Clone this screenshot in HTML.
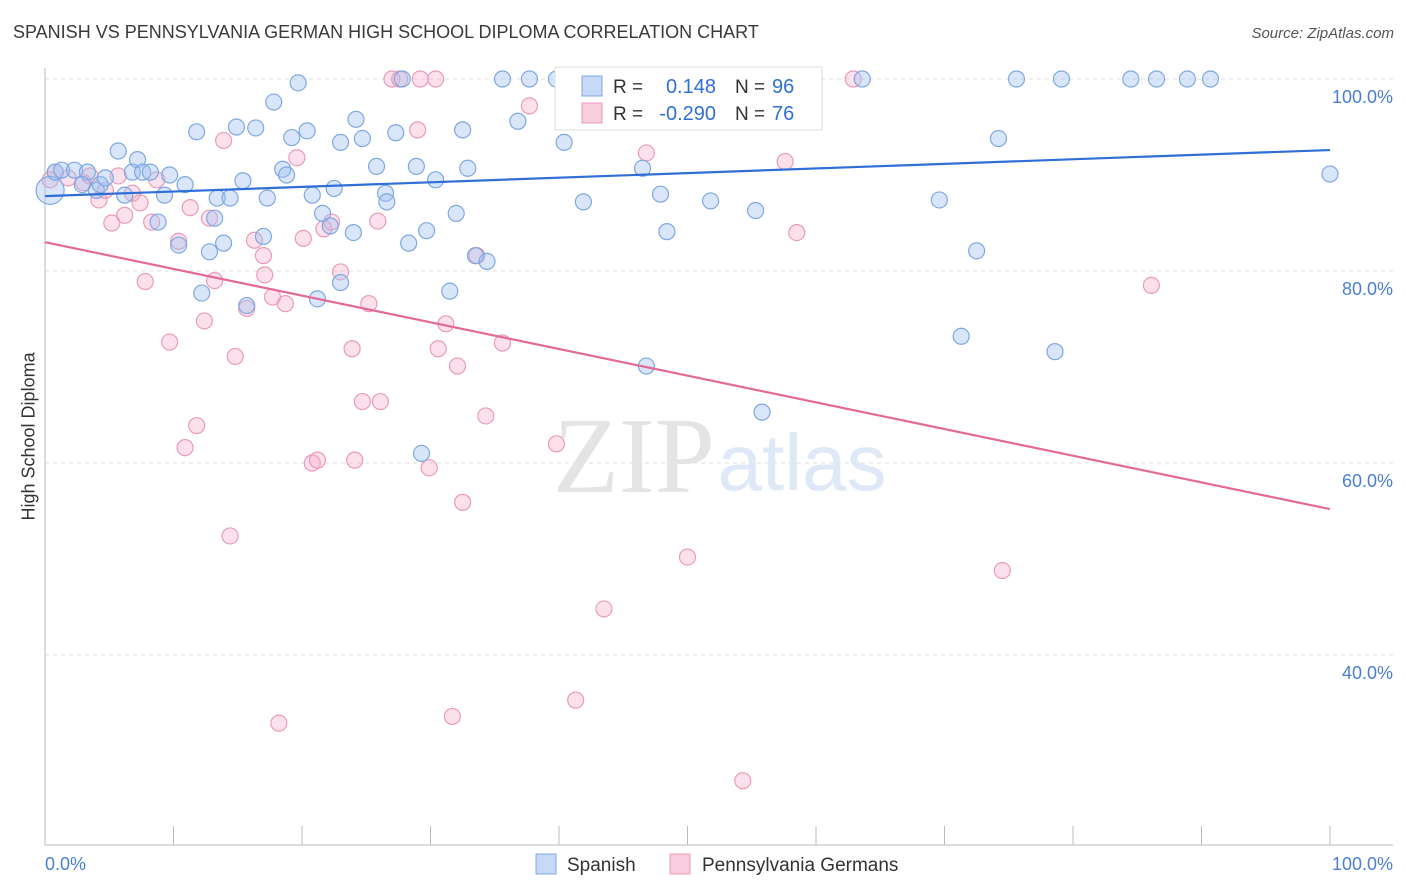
<!DOCTYPE html>
<html><head><meta charset="utf-8"><style>
body{margin:0;background:#fff;font-family:"Liberation Sans",sans-serif;}
#wrap{position:relative;width:1406px;height:892px;overflow:hidden;}
.t{position:absolute;white-space:nowrap;}
</style></head><body>
<div id="wrap">
<div class="t" style="left:13px;top:22px;font-size:18px;color:#3a3a3a;">SPANISH VS PENNSYLVANIA GERMAN HIGH SCHOOL DIPLOMA CORRELATION CHART</div>
<div class="t" style="right:12px;top:25px;font-size:15px;color:#555;font-style:italic;">Source: ZipAtlas.com</div>
<div class="t" style="left:-36px;top:445px;font-size:18px;color:#333;transform:rotate(-90deg);width:130px;text-align:center;">High School Diploma</div>
<svg id="plot" width="1406" height="892" style="position:absolute;left:0;top:0"></svg>
</div>
<script>
const yTicks=[100,80,60,40];
const yTickLabels=["100.0%","80.0%","60.0%","40.0%"];
const spanishX=[0.4,0.8,1.3,2.3,3.3,2.9,4.0,4.3,4.7,5.7,6.2,6.8,7.2,7.6,8.2,8.8,9.3,9.7,10.4,10.9,11.8,12.2,12.8,13.2,13.4,13.9,14.4,14.9,15.4,15.7,16.4,17.0,17.3,17.8,18.5,18.8,19.2,19.7,20.4,20.8,21.2,21.6,22.2,22.5,23.0,23.0,24.0,24.2,24.7,25.8,26.5,26.6,27.3,27.8,28.3,28.9,29.7,30.4,32.0,32.5,32.9,33.5,34.4,31.5,29.3,35.6,36.8,37.7,39.8,40.4,41.9,46.5,46.8,47.9,48.4,51.8,52.2,55.3,55.8,56.3,63.6,69.6,71.3,72.5,74.2,75.6,79.1,84.5,86.5,88.9,90.7,78.6,100];
const spanishY=[88.4,90.3,90.5,90.5,90.3,89.0,88.4,89.0,89.7,92.5,87.9,90.3,91.6,90.3,90.3,85.1,87.9,90.0,82.7,89.0,94.5,77.7,82.0,85.5,87.6,82.9,87.6,95.0,89.4,76.4,94.9,83.6,87.6,97.6,90.6,90.0,93.9,99.6,94.6,87.9,77.1,86.0,84.7,88.6,78.8,93.4,84.0,95.8,93.8,90.9,88.1,87.2,94.4,100,82.9,90.9,84.2,89.5,86.0,94.7,90.7,81.6,81.0,77.9,61.0,100,95.6,100,100,93.4,87.2,90.7,70.1,88.0,84.1,87.3,100,86.3,65.3,100,100,87.4,73.2,82.1,93.8,100,100,100,100,100,100,71.6,90.1];
const pennX=[0.4,0.8,1.8,3.0,3.5,4.2,4.7,5.2,5.7,6.2,6.8,7.4,7.8,8.3,8.7,9.7,10.4,10.9,11.3,11.8,12.4,12.8,13.2,13.9,14.4,14.8,15.7,16.3,17.0,17.1,17.7,18.2,18.7,19.6,20.1,20.8,21.2,21.7,22.3,23.0,23.9,24.1,24.7,25.2,26.1,25.9,27.0,27.6,29.0,29.2,30.4,29.9,30.6,31.2,31.7,32.1,32.5,33.6,34.3,35.6,37.7,39.8,43.5,41.3,46.8,50.0,54.3,57.6,58.5,62.9,74.5,86.1];
const pennY=[89.5,90.3,89.7,89.2,89.9,87.4,88.4,85.0,89.9,85.8,88.1,87.1,78.9,85.1,89.5,72.6,83.1,61.6,86.6,63.9,74.8,85.5,79.0,93.6,52.4,71.1,76.1,83.2,81.6,79.6,77.3,32.9,76.6,91.8,83.4,60.0,60.3,84.4,85.1,79.9,71.9,60.3,66.4,76.6,66.4,85.2,100,100,94.7,100,100,59.5,71.9,74.5,33.6,70.1,55.9,81.6,64.9,72.5,97.2,62.0,44.8,35.3,92.3,50.2,26.9,91.4,84.0,100,48.8,78.5];
const spanishTrend=[87.8,92.6];
const pennTrend=[83.0,55.2];

const NS="http://www.w3.org/2000/svg";
const svg=document.getElementById('plot');
const X=v=>45+v*12.85;
const Y=v=>1039-v*9.6;
function mk(tag,attrs,parent){const e=document.createElementNS(NS,tag);for(const k in attrs)e.setAttribute(k,attrs[k]);(parent||svg).appendChild(e);return e;}

yTicks.forEach((t,i)=>{
  const g=mk('line',{x1:45,x2:1393,y1:Y(t),y2:Y(t),stroke:'#ddd','stroke-dasharray':'4,4'});
  
  
  const tx=mk('text',{x:1393,y:Y(t)+24,'text-anchor':'end','font-size':18,fill:'#4a7fd6','font-family':'Liberation Sans, sans-serif'});
  tx.textContent=yTickLabels[i];
  
  
});
const ax=mk('line',{x1:45,x2:45,y1:68,y2:845,stroke:'#bbb'});


const bx=mk('line',{x1:45,x2:1393,y1:845,y2:845,stroke:'#bbb'});


for(let i=0;i<=10;i++){
  const tk=mk('line',{x1:X(i*10),x2:X(i*10),y1:826,y2:845,stroke:'#bbb'});
  
  
}
[['0.0%',45,'start'],['100.0%',1393,'end']].forEach(a=>{
  const t=mk('text',{x:a[1],y:870,'text-anchor':a[2],'font-size':18,fill:'#4a7fd6','font-family':'Liberation Sans, sans-serif'});
  t.textContent=a[0];
  
  
});
const w1=mk('text',{x:634,y:492,'text-anchor':'middle','font-size':108,fill:'#e4e4e4','font-family':'Liberation Serif, serif'});
w1.textContent='ZIP';


const w2=mk('text',{x:802,y:490,'text-anchor':'middle','font-size':80,fill:'#dfe8f6','font-family':'Liberation Sans, sans-serif'});
w2.textContent='atlas';



pennX.forEach((x,i)=>{
  const c=mk('circle',{cx:X(x),cy:Y(pennY[i]),r:8,fill:'rgba(245,170,200,0.35)',stroke:'#e99bb9','stroke-width':1.2});
  
  
});
spanishX.forEach((x,i)=>{
  const c=mk('circle',{cx:X(x),cy:Y(spanishY[i]),r:i===0?14:8,fill:'rgba(160,192,240,0.4)',stroke:'#7ea8e2','stroke-width':1.2});
  
  
});
const l1=mk('line',{x1:X(0),x2:X(100),y1:Y(spanishTrend[0]),y2:Y(spanishTrend[1]),stroke:'#2f6fd6','stroke-width':2.2});


const l2=mk('line',{x1:X(0),x2:X(100),y1:Y(pennTrend[0]),y2:Y(pennTrend[1]),stroke:'#e36a98','stroke-width':2.2});



const lg=mk('g',{});


mk('rect',{x:555,y:67,width:267,height:63,fill:'#fff',stroke:'#ddd'},lg);
mk('rect',{x:582,y:76,width:20,height:20,fill:'rgba(160,192,240,0.6)',stroke:'#7ea8e2'},lg);
mk('rect',{x:582,y:103,width:20,height:20,fill:'rgba(245,170,200,0.6)',stroke:'#e99bb9'},lg);
[[93,'R = ','0.148','96'],[120,'R = ','-0.290','76']].forEach(r=>{
  const a=mk('text',{x:613,y:r[0],'font-size':19,fill:'#333','font-family':'Liberation Sans, sans-serif'},lg);a.textContent=r[1];
  const b=mk('text',{x:716,y:r[0],'text-anchor':'end','font-size':20,fill:'#2f6fd6','font-family':'Liberation Sans, sans-serif'},lg);b.textContent=r[2];
  const c=mk('text',{x:735,y:r[0],'font-size':19,fill:'#333','font-family':'Liberation Sans, sans-serif'},lg);c.textContent='N = ';
  const d=mk('text',{x:772,y:r[0],'font-size':20,fill:'#2f6fd6','font-family':'Liberation Sans, sans-serif'},lg);d.textContent=r[3];
});
const bl=mk('g',{});


mk('rect',{x:536,y:854,width:20,height:20,fill:'rgba(160,192,240,0.6)',stroke:'#7ea8e2'},bl);
mk('rect',{x:670,y:854,width:20,height:20,fill:'rgba(245,170,200,0.6)',stroke:'#e99bb9'},bl);
const s1=mk('text',{x:567,y:871,'font-size':19,fill:'#333','font-family':'Liberation Sans, sans-serif'},bl);s1.textContent='Spanish';
const s2=mk('text',{x:702,y:871,'font-size':19,fill:'#333','font-family':'Liberation Sans, sans-serif'},bl);s2.textContent='Pennsylvania Germans';
</script>
</body></html>
